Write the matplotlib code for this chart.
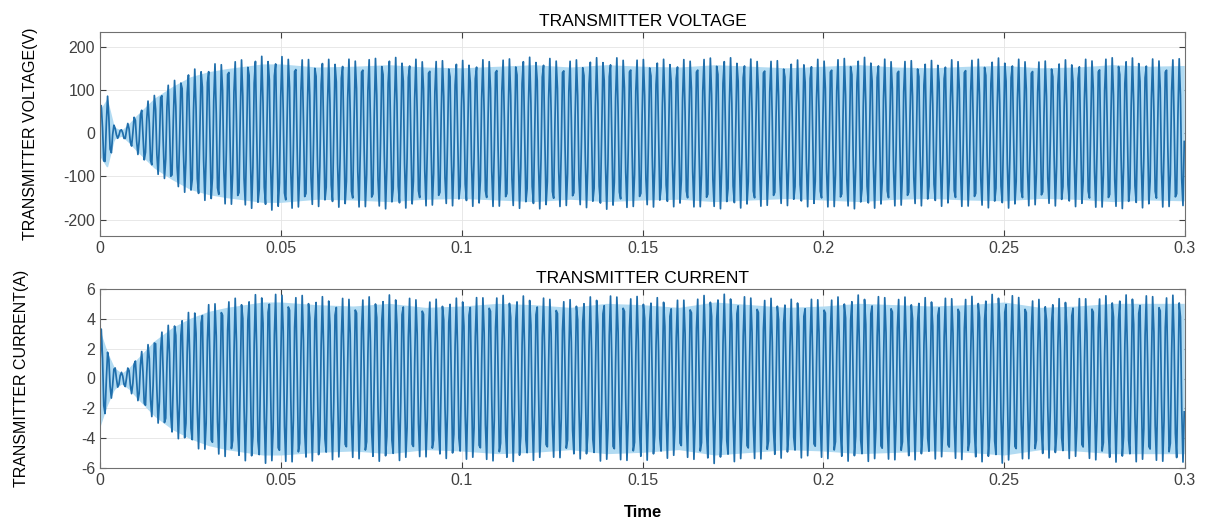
import numpy as np
import matplotlib
matplotlib.use("Agg")
import matplotlib.pyplot as plt

plt.rcParams['font.family'] = ['Liberation Sans', 'DejaVu Sans']
plt.rcParams['axes.unicode_minus'] = False

# envelope (time in s)
env_t = [0.0, 0.002, 0.004, 0.006, 0.008, 0.010, 0.015, 0.020, 0.025, 0.030,
         0.035, 0.040, 0.045, 0.050, 0.060, 0.070, 0.080, 0.090, 0.100, 0.110,
         0.120, 0.130, 0.140, 0.150, 0.160, 0.170, 0.180, 0.190, 0.200, 0.210,
         0.220, 0.230, 0.240, 0.250, 0.260, 0.270, 0.280, 0.290, 0.300]
volt_env = [60, 90, 15, 8, 25, 45, 90, 120, 145, 158,
            166, 172, 178, 178, 170, 172, 176, 170, 168, 172,
            176, 170, 176, 172, 170, 176, 172, 168, 172, 176,
            170, 168, 172, 174, 168, 170, 176, 172, 174]
curr_env = [3.6, 2.0, 0.8, 0.4, 0.8, 1.4, 2.8, 3.8, 4.5, 5.0,
            5.3, 5.5, 5.7, 5.7, 5.5, 5.4, 5.6, 5.3, 5.4, 5.6,
            5.5, 5.3, 5.6, 5.5, 5.3, 5.7, 5.5, 5.3, 5.4, 5.6,
            5.5, 5.4, 5.5, 5.7, 5.3, 5.4, 5.6, 5.6, 5.6]

f_carrier = 540.0   # apparent oscillation rate in the plot (Hz)
fs = 540.0 * 5.3    # plot sample rate, gives the uneven peaks

t = np.arange(0, 0.3, 1 / fs)
v_amp = np.interp(t, env_t, volt_env)
c_amp = np.interp(t, env_t, curr_env)
voltage = v_amp * np.sin(2 * np.pi * f_carrier * t + 0.6)
current = c_amp * np.sin(2 * np.pi * f_carrier * t + 0.3)

line_c = '#1f6eab'
fill_c = '#b2dbf2'

fig = plt.figure(figsize=(12.06, 5.21), dpi=100)
ax1 = fig.add_axes([100 / 1206, 1 - 236 / 521, 1085 / 1206, 204 / 521])
ax2 = fig.add_axes([100 / 1206, 1 - 468 / 521, 1085 / 1206, 179 / 521])

panels = [
    (ax1, voltage, v_amp, 'TRANSMITTER VOLTAGE', 'TRANSMITTER VOLTAGE(V)',
     (-238, 234), [-200, -100, 0, 100, 200], 38),
    (ax2, current, c_amp, 'TRANSMITTER CURRENT', 'TRANSMITTER CURRENT(A)',
     (-6, 6), [-6, -4, -2, 0, 2, 4, 6], 29),
]

for ax, y, amp, title, ylabel, ylim, yt, lab_x in panels:
    ax.fill_between(t, -amp * 0.9, amp * 0.9, color=fill_c, lw=0)
    ax.plot(t, y, color=line_c, lw=1.25)
    ax.set_xlim(0, 0.3)
    ax.set_ylim(*ylim)
    ax.set_xticks([0, 0.05, 0.1, 0.15, 0.2, 0.25, 0.3])
    ax.set_xticklabels(['0', '0.05', '0.1', '0.15', '0.2', '0.25', '0.3'])
    ax.set_yticks(yt)
    ax.grid(True, color='#e4e4e4', lw=0.6)
    ax.set_axisbelow(True)
    ax.tick_params(direction='in', top=True, right=True, labelsize=11.5,
                   colors='#404040', length=4)
    for s in ax.spines.values():
        s.set_color('#707070')
    ax.set_title(title, fontsize=12.5, pad=4)
    ax.set_ylabel(ylabel, fontsize=11.5)
    ax.yaxis.set_label_coords(lab_x / 1206, 0.5, transform=fig.transFigure)
    ax.yaxis.label.set_position((lab_x / 1206, ax.get_position().y0 + ax.get_position().height / 2))

ax2.set_xlabel('Time', fontsize=12, fontweight='bold', labelpad=12)

fig.savefig('out.png', dpi=100)
